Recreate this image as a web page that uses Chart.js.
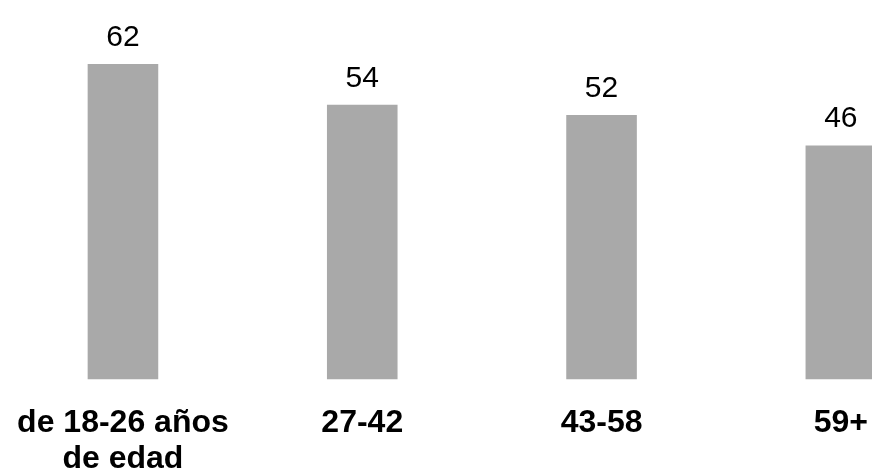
<!DOCTYPE html>
<html>
<head>
<meta charset="utf-8">
<script src="https://cdn.jsdelivr.net/npm/chart.js@4/dist/chart.umd.min.js"></script>
<style>
  html, body { margin: 0; padding: 0; background: #fff; overflow: hidden; }
  #wrap { width: 962px; height: 473px; }
</style>
</head>
<body>
<div id="wrap"><canvas id="ages" width="962" height="473"></canvas></div>
<script>
// age brackets and their share values
const ageGroups = [["de 18-26 años", "de edad"], "27-42", "43-58", "59+"];
const shareValues = [62, 54, 52, 46];

const FONT = "'Liberation Sans', Arial, sans-serif";

// value above each bar, placed from the bar element itself
const valueLabels = {
    id: "valueLabels",
    afterDatasetsDraw(chart) {
        const ctx = chart.ctx;
        const meta = chart.getDatasetMeta(0);
        ctx.save();
        ctx.font = `30px ${FONT}`;
        ctx.fillStyle = "#000";
        ctx.textAlign = "center";
        ctx.textBaseline = "alphabetic";
        meta.data.forEach((bar, i) => {
            ctx.fillText(String(shareValues[i]), bar.x, bar.y - 18);
        });
        ctx.restore();
    },
};

new Chart(document.getElementById("ages"), {
    type: "bar",
    data: {
        labels: ageGroups,
        datasets: [
            {
                data: shareValues,
                backgroundColor: "#a9a9a9",
                borderWidth: 0,
                categoryPercentage: 1,
                barPercentage: 0.295,
            },
        ],
    },
    options: {
        responsive: false,
        animation: false,
        layout: { padding: { left: 3.3, right: 1.5, top: 23.3, bottom: 0 } },
        plugins: { legend: { display: false }, tooltip: { enabled: false } },
        scales: {
            x: {
                grid: { display: false, drawTicks: false },
                border: { display: false },
                ticks: {
                    color: "#000",
                    padding: 25,
                    maxRotation: 0,
                    autoSkip: false,
                    font: { family: FONT, size: 32, weight: "bold", lineHeight: 1.147 },
                },
                afterFit(scale) {
                    // fixed axis band; no extra side padding for wide labels
                    scale.height = 93.5;
                    scale.paddingLeft = 0;
                    scale.paddingRight = 0;
                },
            },
            y: {
                display: false,
                min: 0,
                max: 70,
            },
        },
    },
    plugins: [valueLabels],
});
</script>
</body>
</html>
